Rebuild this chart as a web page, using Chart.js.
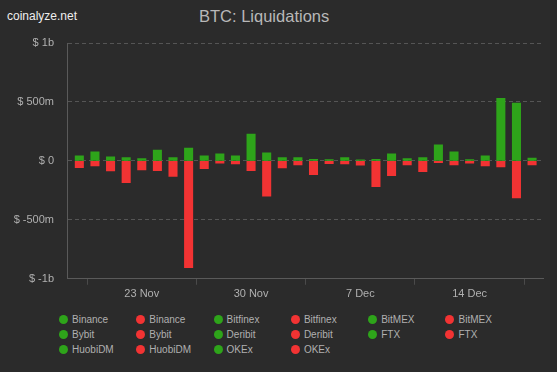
<!DOCTYPE html>
<html lang="en">

<head>
    <meta charset="UTF-8">
    <title>BTC: Liquidations</title>
    <script src="https://cdn.jsdelivr.net/npm/chart.js"></script>
    <style>
        html, body { margin: 0; padding: 0; background: #2b2b2b; }
        body { width: 557px; height: 372px; position: relative; overflow: hidden; font-family: "Liberation Sans", Arial, sans-serif; }
        #site { position: absolute; left: 7px; top: 9px; font-size: 12px; color: #eeeeee; }
        #title { position: absolute; left: 199px; top: 7px; font-size: 16.5px; color: #b8b8b8; }
        #wrap { position: absolute; left: 0; top: 0; width: 557px; height: 304px; }
        #legend { position: absolute; left: 59px; top: 312px; display: grid; grid-template-columns: repeat(6, 77.3px); grid-auto-rows: 15px; }
        .item { display: flex; align-items: center; font-size: 10px; color: #b0b0b0; white-space: nowrap; }
        .dot { width: 9px; height: 9px; border-radius: 50%; margin-right: 4px; flex: none; }
    </style>
</head>

<body>
    <div id="site">coinalyze.net</div>
    <div id="title">BTC: Liquidations</div>
    <div id="wrap"><canvas id="liqChart"></canvas></div>
    <div id="legend"></div>

    <script>
        // daily bars, 19 Nov .. 18 Dec
        const days = ['19 Nov', '20 Nov', '21 Nov', '22 Nov', '23 Nov', '24 Nov', '25 Nov', '26 Nov', '27 Nov', '28 Nov',
            '29 Nov', '30 Nov', '1 Dec', '2 Dec', '3 Dec', '4 Dec', '5 Dec', '6 Dec', '7 Dec', '8 Dec',
            '9 Dec', '10 Dec', '11 Dec', '12 Dec', '13 Dec', '14 Dec', '15 Dec', '16 Dec', '17 Dec', '18 Dec'];

        // totals over all exchanges, in $ millions
        const longLiq = [43, 77, 34, 28, 20, 91, 28, 108, 43, 60,
            43, 228, 68, 28, 28, 14, 11, 28, 9, 14,
            60, 20, 28, 137, 77, 11, 43, 530, 490, 23];
        const shortLiq = [-57, -43, -85, -185, -77, -83, -131, -906, -66, -20,
            -26, -83, -299, -60, -34, -117, -23, -26, -37, -219,
            -125, -34, -91, -14, -34, -20, -43, -51, -314, -34];

        const tickDays = ['23 Nov', '30 Nov', '7 Dec', '14 Dec'];
        const exchanges = ['Binance', 'Bitfinex', 'BitMEX', 'Bybit', 'Deribit', 'FTX', 'HuobiDM', 'OKEx'];

        const green = '#2ea41a';
        const red = '#f23333';

        // legend: each exchange once for longs (green) and once for shorts (red)
        const legend = document.getElementById('legend');
        exchanges.forEach(name => {
            [green, red].forEach(color => {
                const item = document.createElement('div');
                item.className = 'item';
                item.innerHTML = `<span class="dot" style="background:${color}"></span>${name}`;
                legend.appendChild(item);
            });
        });

        const fmt = v => {
            if (v === 0) return '$ 0';
            const a = Math.abs(v);
            const s = a >= 1000 ? (a / 1000) + 'b' : a + 'm';
            return '$ ' + (v < 0 ? '-' : '') + s;
        };

        const ctx = document.getElementById('liqChart').getContext('2d');
        new Chart(ctx, {
            type: 'bar',
            data: {
                datasets: [
                    {
                        label: 'Longs',
                        data: longLiq.map((v, i) => ({ x: i, y: v })),
                        backgroundColor: green,
                    },
                    {
                        label: 'Shorts',
                        data: shortLiq.map((v, i) => ({ x: i, y: v })),
                        backgroundColor: red,
                    }
                ]
            },
            options: {
                responsive: true,
                maintainAspectRatio: false,
                animation: false,
                barThickness: 8.4,
                layout: { padding: { top: 43, right: 14, left: 0, bottom: 0 } },
                plugins: {
                    legend: { display: false },
                    tooltip: { enabled: false }
                },
                scales: {
                    x: {
                        type: 'linear',
                        stacked: true,
                        offset: false,
                        min: -0.79,
                        max: 29.7,
                        afterBuildTicks: scale => {
                            scale.ticks = tickDays.map(d => ({ value: days.indexOf(d) }));
                        },
                        ticks: {
                            color: '#b0b0b0',
                            font: { size: 11, family: 'Liberation Sans' },
                            padding: 3,
                            maxRotation: 0,
                            callback: v => days[v]
                        },
                        grid: {
                            drawOnChartArea: false,
                            color: '#4a4a4a',
                            tickLength: 6
                        },
                        border: { color: '#5a5a5a' }
                    },
                    y: {
                        stacked: true,
                        min: -1000,
                        max: 1000,
                        afterFit: scale => { scale.width = 67; },
                        ticks: {
                            stepSize: 500,
                            color: '#b0b0b0',
                            font: { size: 11, family: 'Liberation Sans' },
                            padding: 13,
                            callback: v => fmt(v)
                        },
                        grid: {
                            drawTicks: false,
                            color: ctx => ctx.tick.value === -1000 ? 'rgba(0,0,0,0)' : '#555555'
                        },
                        border: { color: '#5a5a5a', dash: [4, 3] }
                    }
                }
            }
        });
    </script>
</body>

</html>
